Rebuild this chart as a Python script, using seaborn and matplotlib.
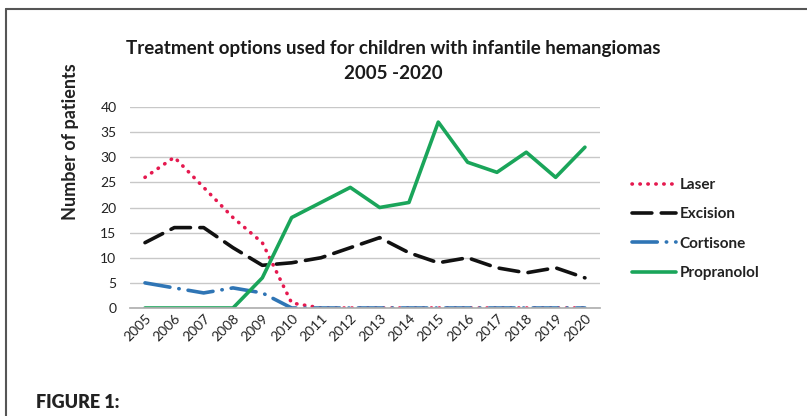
import numpy as np
import pandas as pd
import matplotlib
matplotlib.use("Agg")
import matplotlib.pyplot as plt
import seaborn as sns
from matplotlib.lines import Line2D

# data
years = list(range(2005, 2021))
laser = [26, 30, 24, 18, 13, 1, 0, 0, 0, 0, 0, 0, 0, 0, 0, 0]
excision = [13, 16, 16, 12, 8.5, 9, 10, 12, 14, 11, 9, 10, 8, 7, 8, 6]
cortisone = [5, 4, 3, 4, 3, 0, 0, 0, 0, 0, 0, 0, 0, 0, 0, 0]
propranolol = [0, 0, 0, 0, 6, 18, 21, 24, 20, 21, 37, 29, 27, 31, 26, 32]

series_names = ["Laser", "Excision", "Cortisone", "Propranolol"]
series_vals = [laser, excision, cortisone, propranolol]
colors = ["#e5194f", "#111111", "#2f75b5", "#1aa55a"]
styles = [(0, (0.1, 2.1)), (0, (5.5, 2.6)), (0, (7, 2.5, 0.1, 2.5)), "-"]

sns.set_theme(style="white")
plt.rcParams["font.family"] = ["Lato", "DejaVu Sans"]

df = pd.DataFrame({"year": years * 4,
                   "value": sum(series_vals, []),
                   "treatment": np.repeat(series_names, len(years))})

fig = plt.figure(figsize=(8.07, 4.16), dpi=100)
ax = fig.add_axes([0.1615, 0.2596, 0.5815, 0.4832])

for name, col, ls in zip(series_names, colors, styles):
    sub = df[df["treatment"] == name]
    sns.lineplot(data=sub, x="year", y="value", ax=ax, color=col, linewidth=2.6,
                 linestyle=ls, label=name, dash_capstyle="round")

ax.set_xlim(2004.5, 2020.5)
ax.set_ylim(0, 40)
ax.set_yticks(range(0, 41, 5))
ax.set_xticks(years)
ax.set_xticklabels([str(y) for y in years], rotation=45, ha="right",
                   rotation_mode="anchor", fontsize=10, color="#222222")
ax.tick_params(axis="y", labelsize=10, labelcolor="#222222", length=0, pad=10)
ax.tick_params(axis="x", length=0, pad=3)
ax.grid(axis="y", color="#c8c8c8", linewidth=1)
for s in ["top", "right", "left"]:
    ax.spines[s].set_visible(False)
ax.spines["bottom"].set_color("#b0b0b0")
ax.set_xlabel("")
ax.set_ylabel("Number of patients", fontsize=13, fontweight="bold", color="#222222")
ax.yaxis.set_label_coords(-0.11, 0.83)

leg = ax.legend(loc="upper left", bbox_to_anchor=(1.04, 0.715), frameon=False,
                handlelength=2.9, labelspacing=1.0, fontsize=11, handletextpad=0.2)
for t in leg.get_texts():
    t.set_fontweight("bold")
    t.set_color("#222222")

fig.text(0.487, 0.883, "Treatment options used for children with infantile hemangiomas",
         ha="center", va="center", fontsize=13.5, fontweight="bold", color="#1a1a1a")
fig.text(0.487, 0.823, "2005 -2020", ha="center", va="center", fontsize=13.5,
         fontweight="bold", color="#1a1a1a")
fig.text(0.045, 0.033, "FIGURE 1:", ha="left", va="center", fontsize=13,
         fontweight="heavy", color="#222222")

# outer frame: top and left rules
fig.add_artist(Line2D([0.0075, 1.0], [0.978, 0.978], transform=fig.transFigure,
                      color="#555555", linewidth=1.5))
fig.add_artist(Line2D([0.0075, 0.0075], [0.0, 0.978], transform=fig.transFigure,
                      color="#555555", linewidth=1.5))

fig.savefig("out.png", dpi=100)
